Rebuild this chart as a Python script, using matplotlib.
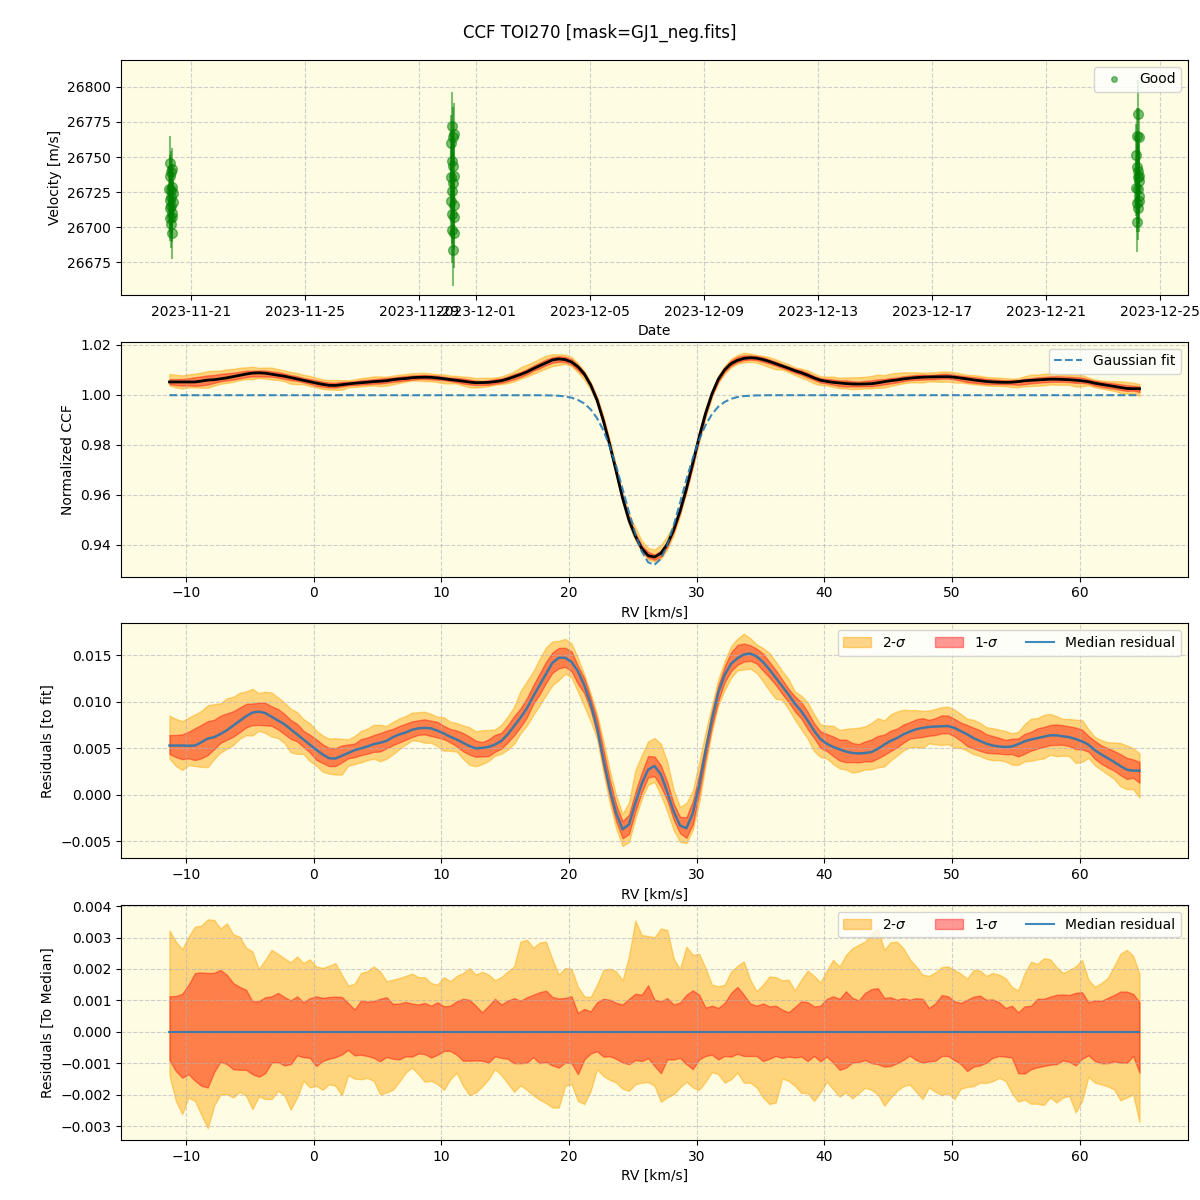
import numpy as np
import pandas as pd
import matplotlib
matplotlib.use("Agg")
import matplotlib.pyplot as plt
from matplotlib.lines import Line2D
from matplotlib.patches import Patch

# ---------------- data ----------------
# RV grid of the CCF [km/s]
rv = np.round(-11.3 + 0.5 * np.arange(153), 2)

# median residual to the gaussian fit (x1e-3)
med_res = np.array([
    5.3, 5.3, 5.3, 5.28, 5.3, 5.65, 6.05, 6.2, 6.55, 6.95,
    7.45, 7.95, 8.45, 8.85, 8.95, 8.8, 8.4, 8.0, 7.6, 7.05,
    6.5, 5.95, 5.4, 4.85, 4.35, 3.95, 3.9, 4.2, 4.5, 4.8,
    5.0, 5.2, 5.45, 5.6, 5.8, 6.2, 6.5, 6.7, 7.0, 7.15,
    7.2, 7.15, 6.9, 6.6, 6.25, 5.95, 5.6, 5.25, 5.0, 5.05,
    5.15, 5.4, 5.8, 6.5, 7.4, 8.3, 9.3, 10.6, 11.8, 13.0,
    14.2, 14.75, 14.75, 14.3, 13.3, 11.8, 9.8, 7.2, 3.8, 0.6,
    -2.0, -3.7, -3.2, -0.9, 1.2, 2.7, 3.1, 2.2, 0.3, -1.8,
    -3.3, -3.6, -2.0, 1.0, 4.7, 8.1, 11.0, 12.9, 14.1, 14.7,
    15.1, 15.2, 14.9, 14.3, 13.5, 12.6, 11.7, 10.8, 9.8, 9.0,
    8.0, 6.9, 6.0, 5.5, 5.15, 4.9, 4.65, 4.5, 4.45, 4.5,
    4.6, 4.95, 5.4, 5.8, 6.1, 6.5, 6.8, 7.05, 7.2, 7.3,
    7.35, 7.38, 7.4, 7.2, 6.85, 6.5, 6.1, 5.8, 5.5, 5.3,
    5.2, 5.15, 5.2, 5.45, 5.75, 5.95, 6.1, 6.25, 6.4, 6.4,
    6.3, 6.2, 6.0, 5.75, 5.4, 4.8, 4.35, 3.95, 3.55, 3.1,
    2.7, 2.6, 2.6]) * 1e-3

# band edges relative to the median (x1e-3)
hi2 = np.array([
    3.22, 2.87, 2.63, 3.03, 3.35, 3.38, 3.58, 3.56, 3.29, 3.45,
    3.10, 3.03, 2.68, 2.56, 2.0, 2.29, 2.61, 2.48, 2.34, 2.21,
    2.40, 2.19, 2.31, 2.08, 2.03, 2.10, 2.19, 1.82, 1.47, 1.53,
    1.87, 1.93, 2.08, 1.93, 1.61, 1.66, 1.71, 1.78,
    1.85, 1.74, 1.74, 1.55, 1.50, 1.74, 1.61, 1.78, 1.87, 2.03, 1.82, 1.91,
    1.82, 1.64, 1.74, 1.92, 2.08, 2.87, 2.93, 2.68, 2.84, 2.87,
    2.31, 1.82, 2.03, 2.0, 1.43, 1.13, 1.11, 1.50, 1.97, 2.01,
    1.92, 1.64, 2.40, 3.54, 3.08, 3.05,
    3.01, 3.29, 3.24, 2.34, 2.0, 2.71, 2.45, 2.48, 2.03, 1.50, 1.45, 1.50, 1.92, 2.10,
    2.24, 1.66, 1.29, 1.50, 1.76, 1.74, 1.64, 1.66, 1.32, 1.66,
    1.95, 1.78, 1.57, 1.95, 2.29, 2.08, 2.45, 2.66, 2.77, 2.87,
    3.14, 3.29, 2.61, 2.85,
    2.87, 2.66, 2.31, 2.08, 1.82, 1.78,
    1.89, 2.06, 2.08, 1.97, 1.85, 1.69, 1.97, 1.95, 1.78, 1.87,
    1.82, 1.71, 1.43, 1.32, 1.87, 2.23, 2.16, 2.34, 2.31, 2.06,
    1.87, 1.97, 2.08, 2.29, 1.66, 1.43, 1.55, 1.71, 2.08, 2.48,
    2.61, 2.42, 1.85]) * 1e-3

hi1 = np.array([
    1.13, 1.14, 1.21, 1.50, 1.87, 1.89, 1.87, 1.88, 1.97, 1.81,
    1.55, 1.43, 1.34, 0.97, 0.97, 1.10, 1.13, 1.24, 1.11, 1.0,
    1.13, 0.94, 1.07, 1.13, 1.08, 1.11, 1.12, 1.11, 0.92, 0.71,
    0.99, 0.96, 0.98, 1.05, 1.10, 0.89, 0.90, 0.95,
    0.90, 0.87, 0.92, 0.83, 0.94, 0.81, 0.83, 0.97, 1.05, 1.02, 0.83, 0.62,
    0.83, 1.05, 0.87, 0.99, 1.07, 0.99, 1.10, 1.18, 1.26, 1.31,
    1.11, 1.06, 1.08, 1.13, 0.60, 0.73, 0.65, 0.94, 1.05, 1.02,
    0.92, 0.87, 1.05, 1.21, 1.18, 1.48,
    1.02, 0.97, 1.07, 0.87, 0.93, 1.18, 1.32, 1.18, 0.77, 0.83, 0.76, 0.92, 1.24, 1.43,
    1.18, 0.90, 0.83, 0.90, 0.81, 0.83, 0.71, 0.62, 0.79, 0.97,
    0.94, 0.81, 0.83, 1.05, 1.13, 1.05, 1.29, 1.08, 1.0, 1.24,
    1.36, 1.39, 1.08, 1.10,
    1.02, 1.07, 1.02, 1.07, 1.05, 0.76,
    0.90, 1.17, 1.13, 0.97, 0.92, 1.02, 1.12, 1.15, 1.02, 1.03,
    0.94, 0.76, 0.83, 0.62, 0.81, 0.83, 1.05, 1.05, 1.12, 1.18,
    1.19, 1.17, 1.24, 1.26, 0.94, 1.0, 0.98, 1.08, 1.17, 1.28,
    1.28, 1.21, 0.94]) * 1e-3

lo1 = np.array([
    -0.90, -1.25, -1.46, -1.35, -1.56, -1.72, -1.77, -1.28, -0.95, -1.03,
    -1.19, -1.21, -1.21, -1.35, -1.43, -1.32, -0.98, -0.96, -1.07, -1.03,
    -0.75, -0.81, -0.83, -1.09, -0.93, -0.86, -0.81, -0.72, -0.58, -0.75,
    -0.73, -0.77, -0.83, -0.94, -0.80, -0.86, -0.88, -0.78,
    -0.79, -0.69, -0.71, -0.82, -0.73, -0.61, -0.61, -0.73, -0.92, -0.92, -0.91, -0.92,
    -0.98, -0.78, -0.83, -0.86, -1.0, -1.0, -0.98, -0.81, -1.0, -0.96,
    -1.07, -1.14, -0.98, -1.0, -1.35, -0.88, -0.69, -0.62, -0.79, -0.78,
    -0.86, -0.98, -1.03, -0.90, -0.93, -0.84,
    -1.09, -1.32, -0.88, -0.88, -0.83, -1.03, -1.19, -0.88, -0.77, -0.73, -0.88, -0.77, -0.79, -0.70,
    -0.77, -0.77, -0.77, -0.93, -0.86, -0.77, -0.83, -0.79, -0.82, -0.79,
    -0.93, -0.77, -0.94, -0.79, -0.98, -1.21, -1.14, -0.98, -0.96, -0.90,
    -1.0, -1.03, -1.11, -1.09,
    -1.0, -0.89, -0.76, -0.90, -0.98, -0.94,
    -0.92, -0.77, -0.77, -0.90, -1.03, -1.25, -1.11, -1.07, -0.98, -0.83,
    -0.77, -0.79, -0.82, -1.32, -1.33, -1.19, -1.13, -1.09, -1.05, -1.03,
    -0.91, -0.96, -1.07, -0.86, -0.75, -0.93, -1.0, -1.0, -0.94, -0.98,
    -0.99, -0.77, -1.30]) * 1e-3

lo2 = np.array([
    -1.40, -2.20, -2.62, -2.09, -2.20, -2.65, -3.07, -2.35, -1.99, -1.99,
    -2.09, -1.91, -2.04, -2.46, -2.06, -2.14, -2.14, -1.88, -2.02, -2.48,
    -2.09, -1.56, -1.77, -1.72, -1.85, -1.67, -1.72, -2.02, -1.38, -1.49,
    -1.51, -1.47, -1.56, -1.99, -1.93, -1.85, -1.59, -1.30,
    -1.14, -1.35, -1.59, -1.56, -1.67, -1.85, -1.51, -1.30, -1.72, -2.02, -1.93, -1.74,
    -1.51, -1.19, -1.38, -1.64, -1.91, -1.70, -1.85, -2.02, -2.16, -2.27,
    -2.41, -2.41, -1.72, -1.67, -2.20, -2.30, -1.88, -1.19, -1.41, -1.53,
    -1.62, -1.81, -1.88, -1.67, -1.62, -1.60,
    -1.72, -2.23, -2.09, -1.99, -1.77, -1.59, -1.77, -1.85, -1.59, -1.28, -1.35, -1.62, -1.51, -1.30,
    -1.62, -1.62, -1.77, -2.09, -2.30, -2.25, -1.49, -1.56, -1.72, -1.95,
    -1.95, -2.20, -1.93, -1.59, -1.83, -2.06, -1.93, -2.12, -1.95, -1.78,
    -1.85, -1.99, -2.35, -2.10,
    -1.88, -1.73, -1.68, -1.91, -2.14, -1.77,
    -1.91, -2.02, -1.95, -2.14, -1.81, -1.76, -1.73, -1.62, -1.63, -1.57,
    -1.47, -1.56, -1.95, -2.22, -2.16, -2.29, -2.29, -2.33, -2.09, -2.25,
    -2.09, -2.04, -2.57, -2.20, -1.43, -1.62, -1.67, -1.74, -1.83, -2.18,
    -2.09, -1.99, -2.88]) * 1e-3

# gaussian fit of the CCF, read on the same grid
gauss_fit = np.array([0.9998] * 58 + [
    0.99978, 0.99975, 0.99969, 0.99956, 0.9993, 0.9988, 0.9979, 0.9965,
    0.9941, 0.9906, 0.9857, 0.9792, 0.9713, 0.9623, 0.9530, 0.9443,
    0.9373, 0.9329, 0.9319, 0.9343, 0.9398, 0.9476, 0.9567, 0.9660,
    0.9746, 0.9820, 0.9878, 0.9922, 0.9952, 0.9971, 0.99835, 0.99905,
    0.99943, 0.9996, 0.99972, 0.99977] + [0.9998] * 59)

# RV time series (three nights)
t1 = ["2023-11-20 05:40", "2023-11-20 05:50", "2023-11-20 06:00", "2023-11-20 06:10",
      "2023-11-20 06:20", "2023-11-20 06:30", "2023-11-20 06:40", "2023-11-20 06:50",
      "2023-11-20 07:00", "2023-11-20 07:10", "2023-11-20 07:20", "2023-11-20 07:30",
      "2023-11-20 07:40", "2023-11-20 07:50", "2023-11-20 08:00", "2023-11-20 08:10",
      "2023-11-20 08:20", "2023-11-20 08:30"]
v1 = [26727.4, 26719.3, 26736.7, 26745.7, 26714.0, 26706.4, 26721.2, 26739.3, 26702.6,
      26726.4, 26715.0, 26741.4, 26696.2, 26710.5, 26728.8, 26707.6, 26724.5, 26718.0]
e1 = [16, 18, 15, 19, 17, 16, 18, 15, 17, 16, 19, 15, 19, 17, 16, 18, 17, 15]

t2 = ["2023-11-30 02:50", "2023-11-30 03:01", "2023-11-30 03:12", "2023-11-30 03:23",
      "2023-11-30 03:34", "2023-11-30 03:45", "2023-11-30 03:56", "2023-11-30 04:07",
      "2023-11-30 04:18", "2023-11-30 04:29", "2023-11-30 04:40", "2023-11-30 04:51",
      "2023-11-30 05:02", "2023-11-30 05:13", "2023-11-30 05:24", "2023-11-30 05:35",
      "2023-11-30 05:46"]
v2 = [26735.5, 26760.2, 26718.8, 26747.4, 26697.9, 26772.4, 26726.0, 26709.8, 26743.8,
      26683.6, 26731.2, 26764.5, 26707.4, 26716.0, 26766.4, 26696.2, 26736.7]
e2 = [22, 20, 24, 21, 23, 24, 20, 22, 21, 25, 22, 21, 23, 24, 22, 25, 23]

t3 = ["2023-12-24 04:20", "2023-12-24 04:31", "2023-12-24 04:42", "2023-12-24 04:53",
      "2023-12-24 05:04", "2023-12-24 05:15", "2023-12-24 05:26", "2023-12-24 05:37",
      "2023-12-24 05:48", "2023-12-24 05:59", "2023-12-24 06:10", "2023-12-24 06:21",
      "2023-12-24 06:32", "2023-12-24 06:43", "2023-12-24 06:54", "2023-12-24 07:05"]
v3 = [26728.3, 26751.7, 26717.6, 26742.6, 26703.6, 26765.2, 26735.5, 26714.0, 26780.7,
      26727.1, 26740.2, 26718.8, 26764.0, 26736.7, 26722.5, 26733.0]
e3 = [20, 22, 21, 19, 21, 20, 22, 23, 24, 21, 20, 22, 21, 23, 20, 22]

# ---------------- figure ----------------
BG = "#fefde3"
C2 = "orange"
C1 = "red"
CM = "#1f77b4"

fig, axes = plt.subplots(4, 1, figsize=(12, 12), dpi=100)
fig.subplots_adjust(left=0.1008, right=0.99, top=0.95, bottom=0.05, hspace=0.2)
fig.suptitle("CCF TOI270 [mask=GJ1_neg.fits]", fontsize=12)

for ax in axes:
    ax.set_facecolor(BG)
    ax.grid(True, linestyle="--", color="#b0b0c0", alpha=0.6)

# panel 1 : velocities
ax = axes[0]
t_all = pd.to_datetime(t1 + t2 + t3)
v_all = np.array(v1 + v2 + v3)
e_all = np.array(e1 + e2 + e3)
ax.errorbar(t_all, v_all, yerr=e_all, fmt="o", color="green", alpha=0.5,
            ms=7, elinewidth=1.5, capsize=0)
ax.set_ylim(26652, 26819)
ax.set_xlabel("Date")
ax.set_ylabel("Velocity [m/s]")
ax.legend(handles=[Line2D([], [], marker="o", ls="none", color="green",
                          alpha=0.5, ms=4, label="Good")], loc="upper right")

# panel 2 : CCF
ax = axes[1]
ccf = gauss_fit + med_res
ax.fill_between(rv, ccf + lo2, ccf + hi2, color=C2, alpha=0.45)
ax.fill_between(rv, ccf + lo1, ccf + hi1, color=C1, alpha=0.4)
ax.plot(rv, ccf, color="black", lw=2)
ax.plot(rv, gauss_fit, ls="--", color=CM, lw=1.5, alpha=0.85, label="Gaussian fit")
ax.set_ylim(0.9272, 1.0212)
ax.set_xlabel("RV [km/s]")
ax.set_ylabel("Normalized CCF")
ax.legend(loc="upper right")

# legend handles for residual panels
h2 = Patch(facecolor=C2, edgecolor=C2, alpha=0.45, label="2-$\\sigma$")
h1 = Patch(facecolor=C1, edgecolor=C1, alpha=0.4, label="1-$\\sigma$")
hm = Line2D([], [], color=CM, lw=1.5, alpha=0.85, label="Median residual")

# panel 3 : residuals to fit
ax = axes[2]
ax.fill_between(rv, med_res + lo2, med_res + hi2, color=C2, alpha=0.45)
ax.fill_between(rv, med_res + lo1, med_res + hi1, color=C1, alpha=0.4)
ax.plot(rv, med_res, color=CM, lw=1.8, alpha=0.85)
ax.set_ylim(-0.00683, 0.01844)
ax.set_xlabel("RV [km/s]")
ax.set_ylabel("Residuals [to fit]")
ax.legend(handles=[h2, h1, hm], ncol=3, loc="upper right")

# panel 4 : residuals to median
ax = axes[3]
zero = np.zeros_like(rv)
ax.fill_between(rv, lo2, hi2, color=C2, alpha=0.45)
ax.fill_between(rv, lo1, hi1, color=C1, alpha=0.4)
ax.plot(rv, zero, color=CM, lw=1.5, alpha=0.85)
ax.set_ylim(-0.003445, 0.00403)
ax.set_xlabel("RV [km/s]")
ax.set_ylabel("Residuals [To Median]")
ax.legend(handles=[h2, h1, hm], ncol=3, loc="upper right")

fig.savefig("out.png", dpi=100)
